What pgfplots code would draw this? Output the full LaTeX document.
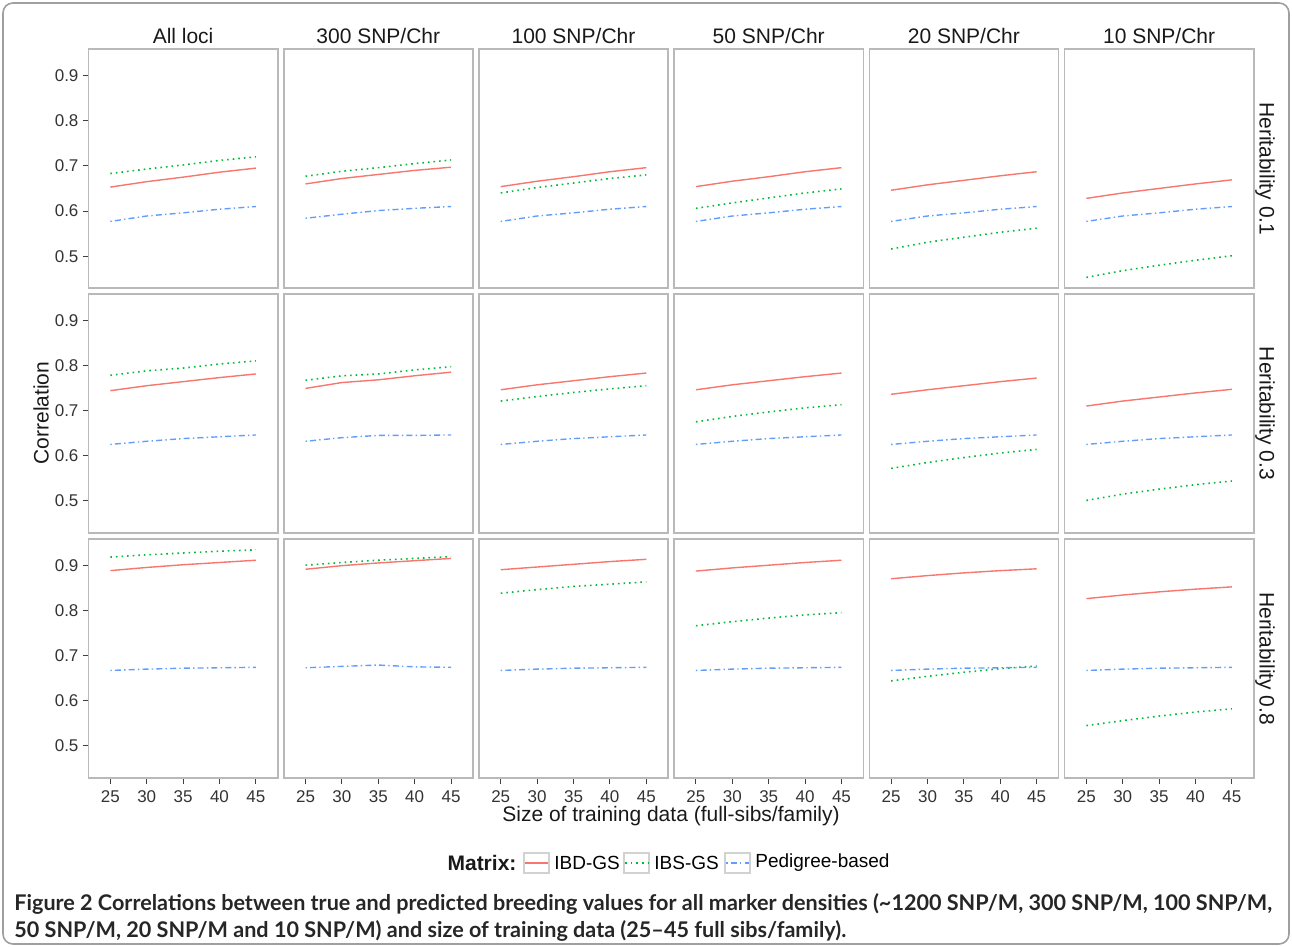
\documentclass[border=0pt]{standalone}
\usepackage{pgfplots}
\pgfplotsset{compat=1.18}
\usepackage{pgfplotstable}
\usepackage{fontspec}
\setmainfont{Liberation Sans}
\newfontfamily\capfont{Lato}

\definecolor{ibdcol}{HTML}{F8766D}
\definecolor{ibscol}{HTML}{00BA38}
\definecolor{pedcol}{HTML}{619CFF}

\tikzset{
  ibd/.style={draw=ibdcol, line width=0.7pt},
  ibs/.style={draw=ibscol, line width=0.8pt, dash pattern=on 0.8pt off 2pt},
  ped/.style={draw=pedcol, line width=0.7pt, dash pattern=on 0.7pt off 1.6pt on 3pt off 1.6pt},
}

\pgfplotsset{
  panel/.style={scale only axis, width=94.6pt, height=119.5pt, anchor=south west,
    xmin=22, xmax=48, ymin=0.429, ymax=0.958,
    axis line style={gray!55, line width=0.8pt},
    xtick=\empty, ytick=\empty, tick align=outside, major tick length=3pt,
    tick style={black!75, line width=0.5pt},
    ticklabel style={font=\fontsize{8.5}{10}\selectfont, text=black!80},
    /pgf/number format/assume math mode=true},
  leftcol/.style={ytick={0.5,0.6,0.7,0.8,0.9}, ytick pos=left,
    yticklabel style={xshift=1.5pt, /pgf/number format/fixed, /pgf/number format/precision=1,
      /pgf/number format/fixed zerofill}},
  botrow/.style={xtick={25,30,35,40,45}, xtick pos=left},
}

% heritability 0.1
\pgfplotstableread{
x  Ai    As    Ap    Bi    Bs    Bp    Ci    Cs    Cp    Di    Ds    Dp    Ei    Es    Ep    Fi    Fs    Fp
25 0.653 0.683 0.577 0.660 0.677 0.584 0.654 0.640 0.577 0.654 0.606 0.577 0.646 0.516 0.577 0.628 0.453 0.577
30 0.665 0.693 0.589 0.672 0.688 0.593 0.666 0.652 0.589 0.666 0.618 0.589 0.658 0.531 0.589 0.640 0.468 0.589
35 0.675 0.702 0.596 0.681 0.696 0.601 0.676 0.662 0.596 0.676 0.629 0.596 0.668 0.542 0.596 0.650 0.480 0.596
40 0.686 0.712 0.604 0.690 0.705 0.606 0.687 0.672 0.604 0.687 0.640 0.604 0.678 0.553 0.604 0.660 0.491 0.604
45 0.695 0.720 0.610 0.697 0.713 0.610 0.696 0.680 0.610 0.696 0.649 0.610 0.687 0.562 0.610 0.669 0.501 0.610
}\hone
% heritability 0.3
\pgfplotstableread{
x  Ai    As    Ap    Bi    Bs    Bp    Ci    Cs    Cp    Di    Ds    Dp    Ei    Es    Ep    Fi    Fs    Fp
25 0.744 0.778 0.625 0.749 0.767 0.632 0.746 0.721 0.625 0.746 0.675 0.625 0.736 0.572 0.625 0.710 0.501 0.625
30 0.755 0.788 0.632 0.762 0.777 0.640 0.757 0.731 0.632 0.757 0.687 0.632 0.746 0.585 0.632 0.721 0.515 0.632
35 0.764 0.794 0.638 0.768 0.781 0.645 0.766 0.740 0.638 0.766 0.697 0.638 0.755 0.596 0.638 0.730 0.526 0.638
40 0.773 0.803 0.642 0.777 0.790 0.645 0.775 0.748 0.642 0.775 0.706 0.642 0.764 0.606 0.642 0.739 0.536 0.642
45 0.781 0.810 0.646 0.785 0.797 0.646 0.783 0.755 0.646 0.783 0.713 0.646 0.772 0.614 0.646 0.747 0.544 0.646
}\hthree
% heritability 0.8
\pgfplotstableread{
x  Ai    As    Ap    Bi    Bs    Bp    Ci    Cs    Cp    Di    Ds    Dp    Ei    Es    Ep    Fi    Fs    Fp
25 0.888 0.918 0.667 0.891 0.900 0.673 0.890 0.838 0.667 0.887 0.766 0.667 0.870 0.644 0.667 0.826 0.545 0.667
30 0.895 0.923 0.670 0.899 0.906 0.676 0.896 0.846 0.670 0.894 0.775 0.670 0.877 0.654 0.670 0.834 0.556 0.670
35 0.901 0.927 0.672 0.905 0.911 0.679 0.902 0.853 0.672 0.900 0.783 0.672 0.883 0.663 0.672 0.841 0.566 0.672
40 0.906 0.931 0.673 0.910 0.915 0.675 0.908 0.858 0.673 0.906 0.790 0.673 0.888 0.671 0.673 0.847 0.575 0.673
45 0.911 0.934 0.674 0.915 0.919 0.674 0.913 0.863 0.674 0.911 0.795 0.674 0.892 0.677 0.674 0.852 0.582 0.674
}\height

% #1 x, #2 y (pt), #3 extra options, #4 table, #5 column letter
\newcommand{\panel}[5]{%
\begin{axis}[panel, at={(#1pt,#2pt)}, #3]
\addplot[ibd] table[x=x, y=#5i]{#4};
\addplot[ibs] table[x=x, y=#5s]{#4};
\addplot[ped] table[x=x, y=#5p]{#4};
\end{axis}}

% legend key: grey-edged box with the series line across it, then its label
% #1 left edge (pt), #2 line style, #3 label
\newcommand{\legkey}[3]{%
  \draw[gray!35, line width=0.6pt, fill=white] (#1pt,37pt) rectangle ++(12.5pt,10pt);
  \draw[#2] (#1pt+0.6pt,42pt) -- ++(11.3pt,0pt);
  \node[anchor=west, inner sep=0pt, font=\fontsize{9.5}{11}\selectfont] at (#1pt+15pt,42pt) {#3};}

\begin{document}
\begin{tikzpicture}
\useasboundingbox (0,0) rectangle (646pt,473.5pt);
\draw[gray!75, line width=0.8pt, rounded corners=5pt] (1.5pt,1.5pt) rectangle (644.5pt,472pt);

% row 1
\panel{44.25}{329.35}{leftcol}{\hone}{A}
\panel{141.85}{329.35}{}{\hone}{B}
\panel{239.45}{329.35}{}{\hone}{C}
\panel{337.05}{329.35}{}{\hone}{D}
\panel{434.65}{329.35}{}{\hone}{E}
\panel{532.25}{329.35}{}{\hone}{F}
% row 2
\panel{44.25}{207}{leftcol}{\hthree}{A}
\panel{141.85}{207}{}{\hthree}{B}
\panel{239.45}{207}{}{\hthree}{C}
\panel{337.05}{207}{}{\hthree}{D}
\panel{434.65}{207}{}{\hthree}{E}
\panel{532.25}{207}{}{\hthree}{F}
% row 3
\panel{44.25}{84.5}{leftcol,botrow}{\height}{A}
\panel{141.85}{84.5}{botrow}{\height}{B}
\panel{239.45}{84.5}{botrow}{\height}{C}
\panel{337.05}{84.5}{botrow}{\height}{D}
\panel{434.65}{84.5}{botrow}{\height}{E}
\panel{532.25}{84.5}{botrow}{\height}{F}

% strip labels
\begin{scope}[every node/.style={font=\fontsize{10.5}{12}\selectfont, text=black!90, inner sep=0pt}]
\node at (91.55pt,455.5pt) {All loci};
\node at (189.15pt,455.5pt) {300 SNP/Chr};
\node at (286.75pt,455.5pt) {100 SNP/Chr};
\node at (384.35pt,455.5pt) {50 SNP/Chr};
\node at (481.95pt,455.5pt) {20 SNP/Chr};
\node at (579.55pt,455.5pt) {10 SNP/Chr};
\node[rotate=-90] at (632.5pt,389.1pt) {Heritability 0.1};
\node[rotate=-90] at (632.5pt,266.75pt) {Heritability 0.3};
\node[rotate=-90] at (632.5pt,144.15pt) {Heritability 0.8};
\node at (335.5pt,65.5pt) {Size of training data (full-sibs/family)};
\node[rotate=90] at (20.5pt,267pt) {Correlation};
\node at (241pt,42pt) {\bfseries Matrix:};
\end{scope}

% legend
\legkey{262}{ibd}{IBD-GS}
\legkey{312}{ibs}{IBS-GS}
\legkey{362.5}{ped}{Pedigree-based}

% caption
\begin{scope}[every node/.style={font=\capfont\bfseries\fontsize{10.8}{12}\selectfont, text=black!85, inner sep=0pt, anchor=base west}]
\node at (7pt,18pt) {Figure 2 Correlations between true and predicted breeding values for all marker densities (\textasciitilde1200 SNP/M, 300 SNP/M, 100 SNP/M,};
\node at (7pt,4.5pt) {50 SNP/M, 20 SNP/M and 10 SNP/M) and size of training data (25–45 full sibs/family).};
\end{scope}
\end{tikzpicture}
\end{document}
